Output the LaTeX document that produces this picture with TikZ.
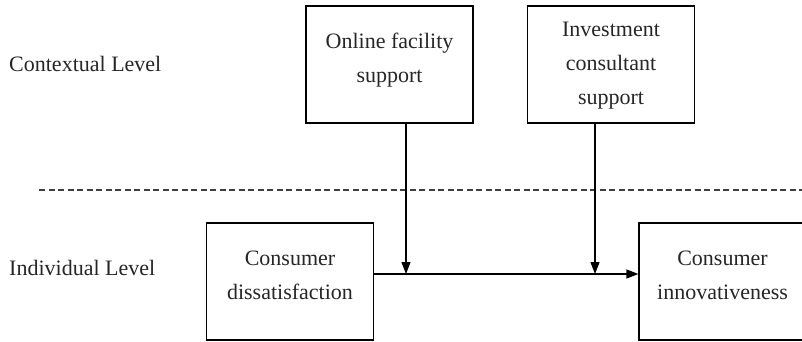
\documentclass[tikz,border=0pt]{standalone}
\usepackage{fontspec}
\setmainfont{Liberation Serif}
\usetikzlibrary{arrows.meta}
\begin{document}
\begin{tikzpicture}[x=1pt,y=-1pt,
  box/.style={draw=black,line width=1.2pt,minimum width=167pt,minimum height=117pt,inner sep=0pt},
  txt/.style={align=center,font=\fontsize{22}{34}\selectfont,inner sep=0pt,text=black!85},
  lvl/.style={font=\fontsize{22}{26}\selectfont,inner sep=0pt,anchor=base west,text=black!85},
  arr/.style={line width=1.2pt,-{Triangle[length=12pt,width=9pt]}},
  sep/.style={line width=1.3pt,draw=black!75,dash pattern=on 6pt off 3.5pt}]
\useasboundingbox (0,0) rectangle (802,342);
% boxes
\node[box] (onl) at (389.5,64.5) {};
\node[box] (inv) at (611,64.5) {};
\node[box] (dis) at (290,281.5) {};
\node[box] (inn) at (722.5,281.5) {};
% box texts
\node[txt] (tonl) at (389.5,60) {Online facility\\support};
\node[txt] (tinv) at (611,66) {Investment\\consultant\\support};
\node[txt] (tdis) at (290,275) {Consumer\\dissatisfaction};
\node[txt] (tinn) at (722.5,275) {Consumer\\innovativeness};
% level labels
\node[lvl] (ctx) at (9,72) {Contextual Level};
\node[lvl] (ind) at (9,275) {Individual Level};
% separator
\coordinate (sl) at (39,190);
\coordinate (sr) at (802,190);
\draw[sep] (sl) -- (sr);
% junctions
\coordinate (j1) at (406,274);
\coordinate (j2) at (595,274);
\draw[arr] (dis.east |- j1) -- (inn.west |- j1);
\draw[arr] (onl.south -| j1) -- (j1);
\draw[arr] (inv.south -| j2) -- (j2);
\end{tikzpicture}
\end{document}
